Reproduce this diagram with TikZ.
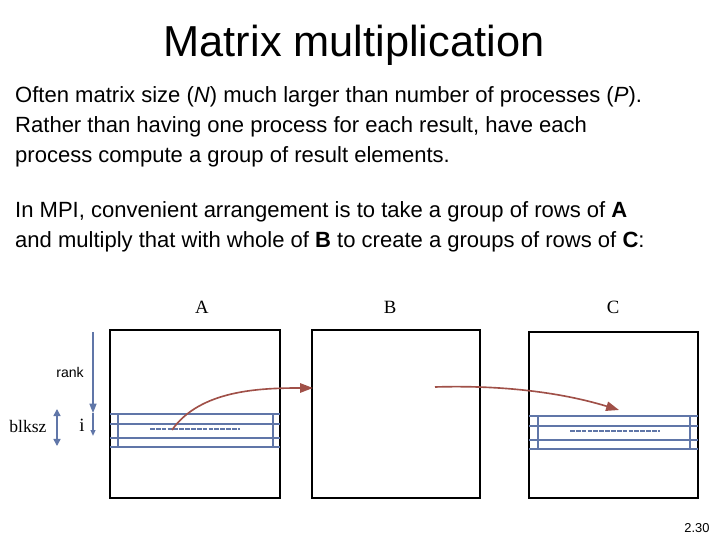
\documentclass[tikz,border=0pt]{standalone}
\usepackage{fontspec}
\setmainfont{Liberation Sans}
\newfontfamily\serifface{Liberation Serif}
\usetikzlibrary{arrows.meta}
\definecolor{bandblue}{RGB}{96, 118, 168}
\definecolor{arrowred}{RGB}{160, 80, 72}

\begin{document}
\begin{tikzpicture}[x=0.03cm, y=-0.03cm]
    % Define styles
    \tikzset{matrixbox/.style={draw, line width=1.8pt}}
    \tikzset{band/.style={draw=bandblue, line width=1pt}}
    \tikzset{textline/.style={anchor=west, inner sep=0pt, font=\fontsize{18.8}{22}\selectfont}}
    \tikzset{flow/.style={draw=arrowred, line width=1.4pt, -{Triangle[length=11pt, width=8pt]}}}
    \tikzset{dim/.style={draw=bandblue, line width=1.3pt}}
    \useasboundingbox (0,0) rectangle (720,540);

    % Title and text
    \node [font=\fontsize{37}{42}\selectfont] (title) at (354,45) {Matrix multiplication};
    \node [textline] (t1) at (15,97) {Often matrix size (\textit{N}) much larger than number of processes (\textit{P}).};
    \node [textline] (t2) at (15,127) {Rather than having one process for each result, have each};
    \node [textline] (t3) at (15,157) {process compute a group of result elements.};
    \node [textline] (t4) at (15,212) {In MPI, convenient arrangement is to take a group of rows of \textbf{A}};
    \node [textline] (t5) at (15,242) {and multiply that with whole of \textbf{B} to create a groups of rows of \textbf{C}:};

    % Matrices
    \draw [matrixbox] (110,330) rectangle (280,498);
    \draw [matrixbox] (312,330) rectangle (480,498);
    \draw [matrixbox] (529,332) rectangle (698,498);
    \node [font=\serifface\fontsize{16}{18}\selectfont] (la) at (202,307) {A};
    \node [font=\serifface\fontsize{16}{18}\selectfont] (lb) at (390,307) {B};
    \node [font=\serifface\fontsize{16}{18}\selectfont] (lc) at (613,307) {C};

    % Row bands
    \foreach \l/\r/\il/\ir/\t in {110/280/118/273/414, 529/698/538/690/416} {
        \draw [band] (\l,\t) -- (\r,\t);
        \draw [band] (\l,\t+10) -- (\r,\t+10);
        \draw [band] (\l,\t+24) -- (\r,\t+24);
        \draw [band] (\l,\t+33) -- (\r,\t+33);
        \draw [band] (\il,\t) -- (\il,\t+33);
        \draw [band] (\ir,\t) -- (\ir,\t+33);
    }
    \draw [band, dashed, dash pattern=on 4pt off 1pt, line width=1.6pt] (150,429) -- (240,429);
    \draw [band, dashed, dash pattern=on 4pt off 1pt] (570,431) -- (660,431);

    % Dimension arrows
    \coordinate (rtop) at (93,332);
    \coordinate (rbot) at (93,413);
    \coordinate (ibot) at (93,436);
    \coordinate (btop) at (57,409);
    \coordinate (bbot) at (57,446);
    \draw [dim, -{Triangle[length=8pt, width=6pt]}] (rtop) -- (rbot);
    \draw [dim, -{Triangle[length=5pt, width=4pt]}] (rbot) -- (ibot);
    \draw [dim, {Triangle[length=6pt, width=6pt]}-{Triangle[length=6pt, width=6pt]}] (btop) -- (bbot);
    \node [font=\fontsize{12}{14}\selectfont] (rank) at (70,372) {rank};
    \node [font=\serifface\fontsize{16}{18}\selectfont] (idx) at (82,425) {i};
    \node [font=\serifface\fontsize{15}{17}\selectfont] (blk) at (28,426) {blksz};

    % Connections
    \coordinate (s1) at (172,430);
    \coordinate (e1) at (313,388);
    \coordinate (s2) at (435,387);
    \coordinate (e2) at (619,410);
    \draw [flow] (s1) .. controls (200,390) and (260,388) .. (e1);
    \draw [flow] (s2) .. controls (500,385) and (560,392) .. (e2);

    \node [font=\fontsize{11}{13}\selectfont] (page) at (697,528) {2.30};
\end{tikzpicture}
\end{document}
